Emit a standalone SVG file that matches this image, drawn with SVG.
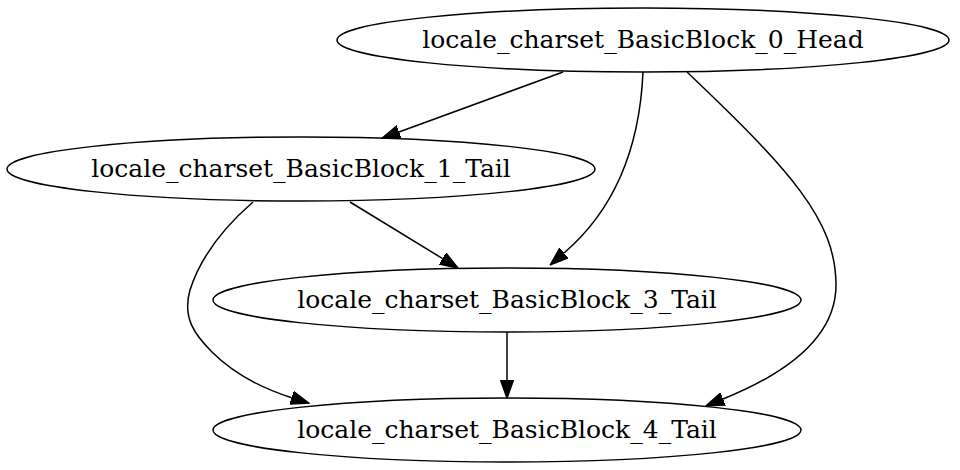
<svg xmlns="http://www.w3.org/2000/svg" width="960" height="470" viewBox="0 0 960 470">
<style>
.node ellipse{fill:none;stroke:#000;stroke-width:1.5}
.node text{font-family:"DejaVu Serif",serif;font-size:25px;fill:#000;text-anchor:middle}
.edge{fill:none;stroke:#000;stroke-width:1.5;marker-end:url(#arrow)}
</style>
<defs>
<marker id="arrow" viewBox="0 -7 19 14" markerWidth="19" markerHeight="14" refX="0" refY="0" orient="auto" markerUnits="userSpaceOnUse">
<path d="M0,-6.5 L18,0 L0,6.5 z" fill="#000" stroke="#000" stroke-width="1.5"/>
</marker>
</defs>
<rect width="960" height="470" fill="#fff"/>
<g id="connectors">
<path class="edge" d="M563,72 L399,132"/>
<path class="edge" d="M643,72 C640,140 620,205 564,253"/>
<path class="edge" d="M687,72 C790,170 836,220 836,285 C836,330 800,368 723,399"/>
<path class="edge" d="M350,202 L442.6,258.6"/>
<path class="edge" d="M253,202 C215,235 198,265 190,290 C182,318 195,335 212,352 C232,372 258,387 291.6,397.7"/>
<path class="edge" d="M507,332 L507,380"/>
</g>
<g id="node0" class="node"><ellipse cx="643" cy="40" rx="306" ry="32"/><text x="643" y="48">locale_charset_BasicBlock_0_Head</text></g>
<g id="node1" class="node"><ellipse cx="301" cy="169" rx="294" ry="32"/><text x="301" y="177">locale_charset_BasicBlock_1_Tail</text></g>
<g id="node3" class="node"><ellipse cx="507" cy="300" rx="294" ry="32"/><text x="507" y="308">locale_charset_BasicBlock_3_Tail</text></g>
<g id="node4" class="node"><ellipse cx="507" cy="430" rx="294" ry="32"/><text x="507" y="438">locale_charset_BasicBlock_4_Tail</text></g>
</svg>
